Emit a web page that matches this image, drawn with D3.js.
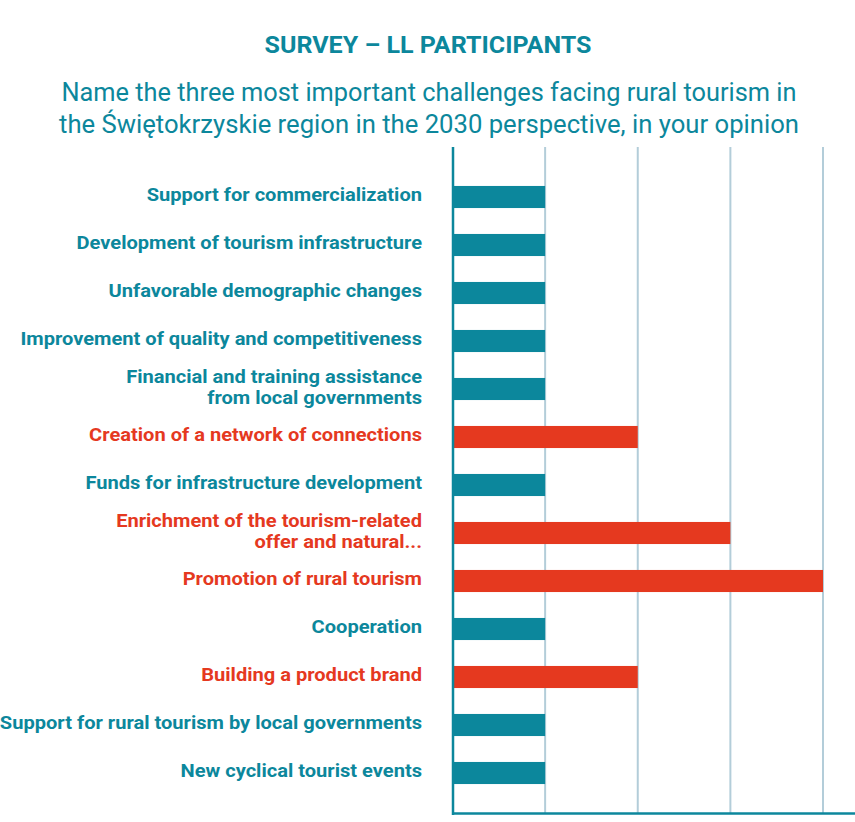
<!DOCTYPE html>
<html>
<head>
<meta charset="utf-8">
<script src="https://cdn.jsdelivr.net/npm/d3@7"></script>
<style>
  html, body { margin: 0; padding: 0; background: #ffffff; }
  svg { display: block; }
</style>
</head>
<body>
<svg id="chart" width="855" height="822"></svg>
<script>
// Survey answers, top to bottom
const categories = [
  "Support for commercialization",
  "Development of tourism infrastructure",
  "Unfavorable demographic changes",
  "Improvement of quality and competitiveness",
  "Financial and training assistance\nfrom local governments",
  "Creation of a network of connections",
  "Funds for infrastructure development",
  "Enrichment of the tourism-related\noffer and natural...",
  "Promotion of rural tourism",
  "Cooperation",
  "Building a product brand",
  "Support for rural tourism by local governments",
  "New cyclical tourist events"
];
const values = [1, 1, 1, 1, 1, 2, 1, 3, 4, 1, 2, 1, 1];
const gridTicks = [1, 2, 3, 4];
const titleText = "SURVEY – LL PARTICIPANTS";
const subtitleLines = [
  "Name the three most important challenges facing rural tourism in",
  "the Świętokrzyskie region in the 2030 perspective, in your opinion"
];

const TEAL = "#0c879c";
const RED = "#e5391f";
const GRID = "#b3cdd9";
const FONT = "Roboto, 'Liberation Sans', sans-serif";

const svg = d3.select("#chart");

const x = d3.scaleLinear().domain([0, 4]).range([452.5, 823]);
const y = d3.scaleBand()
  .domain(categories)
  .range([173, 797])
  .paddingInner(0.54)
  .paddingOuter(0.27);

const colorOf = v => v >= 2 ? RED : TEAL;

// Title and subtitle
svg.append("text")
  .attr("x", 428).attr("y", 53)
  .attr("text-anchor", "middle")
  .attr("font-family", FONT)
  .attr("font-weight", 700)
  .attr("font-size", 24)
  .attr("fill", TEAL)
  .attr("textLength", 327)
  .attr("lengthAdjust", "spacingAndGlyphs")
  .text(titleText);

svg.selectAll("text.sub")
  .data(subtitleLines)
  .join("text")
  .attr("class", "sub")
  .attr("x", 429)
  .attr("y", (d, i) => 101 + i * 32)
  .attr("text-anchor", "middle")
  .attr("font-family", FONT)
  .attr("font-weight", 400)
  .attr("font-size", 25)
  .attr("fill", TEAL)
  .attr("textLength", (d, i) => i === 0 ? 735 : 740)
  .attr("lengthAdjust", "spacingAndGlyphs")
  .text(d => d);

// Vertical grid lines
svg.append("g")
  .selectAll("line")
  .data(gridTicks)
  .join("line")
  .attr("x1", d => x(d)).attr("x2", d => x(d))
  .attr("y1", 147).attr("y2", 813)
  .attr("stroke", GRID)
  .attr("stroke-width", 2);

// Bars
svg.append("g")
  .selectAll("rect")
  .data(categories)
  .join("rect")
  .attr("x", x(0))
  .attr("y", d => y(d))
  .attr("width", (d, i) => x(values[i]) - x(0))
  .attr("height", y.bandwidth())
  .attr("fill", (d, i) => colorOf(values[i]));

// Axis lines
svg.append("line")
  .attr("x1", 453).attr("x2", 453)
  .attr("y1", 147).attr("y2", 815)
  .attr("stroke", TEAL).attr("stroke-width", 2.5);
svg.append("line")
  .attr("x1", 452).attr("x2", 855)
  .attr("y1", 813.5).attr("y2", 813.5)
  .attr("stroke", TEAL).attr("stroke-width", 2.5);

// Category labels, widened to a broader gothic face
const labels = svg.append("g")
  .attr("font-family", FONT)
  .attr("font-weight", 700)
  .attr("font-size", 18)
  .attr("text-anchor", "end");

const widen = 1.115;
categories.forEach((c, i) => {
  const lines = c.split("\n");
  const cy = y(c) + y.bandwidth() / 2;
  const lh = 21;
  const t = labels.append("text")
    .attr("x", 422)
    .attr("fill", colorOf(values[i]));
  lines.forEach((ln, j) => {
    const ts = t.append("tspan")
      .attr("x", 422)
      .attr("y", cy - 2 + (j - (lines.length - 1) / 2) * lh)
      .attr("dy", "0.35em")
      .text(ln);
    const len = ts.node().getComputedTextLength();
    ts.attr("textLength", len * widen).attr("lengthAdjust", "spacingAndGlyphs");
  });
});
</script>
</body>
</html>
